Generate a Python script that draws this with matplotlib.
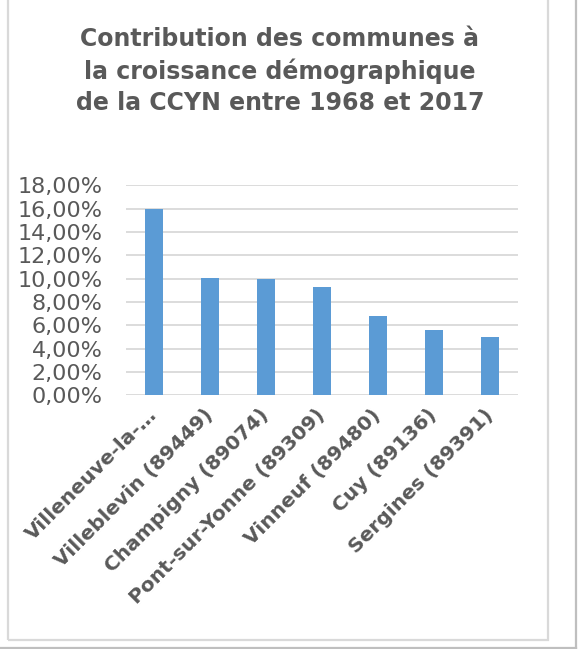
import matplotlib.pyplot as plt
from matplotlib.patches import Rectangle
from matplotlib.lines import Line2D
from matplotlib.ticker import FuncFormatter

# Data
communes = ["Villeneuve-la-…", "Villeblevin (89449)", "Champigny (89074)",
            "Pont-sur-Yonne (89309)", "Vinneuf (89480)", "Cuy (89136)",
            "Sergines (89391)"]
contribution = [15.97, 10.06, 9.97, 9.28, 6.77, 5.57, 5.02]
y_ticks = [0, 2, 4, 6, 8, 10, 12, 14, 16, 18]

W, H = 583, 649
fig = plt.figure(figsize=(W / 100, H / 100), dpi=100)
gray = "#595959"

# chart area frame + outer window lines
fig.patches.append(Rectangle((7.5 / W, 1 - 640 / H), (548 - 7.5) / W, 640 / H + 0.02,
                             transform=fig.transFigure, fill=False,
                             edgecolor="#D9D9D9", linewidth=1.6))
fig.lines.append(Line2D([576 / W, 576 / W], [1 - 648 / H, 1], transform=fig.transFigure,
                        color="#BFBFBF", linewidth=1.6))
fig.lines.append(Line2D([0, 576 / W], [1 - 648 / H, 1 - 648 / H], transform=fig.transFigure,
                        color="#BFBFBF", linewidth=1.6))

ax = fig.add_axes([126 / W, 1 - 395.3 / H, (518 - 126) / W, (395.3 - 185.3) / H])
ax.bar(range(len(communes)), contribution, width=0.316, color="#5B9BD5", zorder=3)

ax.set_xlim(-0.5, len(communes) - 0.5)
ax.set_ylim(0, 18)
ax.set_yticks(y_ticks)
ax.yaxis.set_major_formatter(FuncFormatter(lambda v, p: f"{v:.2f}".replace(".", ",") + "%"))
ax.grid(axis="y", color="#D9D9D9", linewidth=1.3, zorder=0)
for s in ax.spines.values():
    s.set_visible(False)
ax.tick_params(axis="y", length=0, pad=17, labelsize=16, labelcolor=gray)
ax.tick_params(axis="x", length=0, pad=12)

ax.set_xticks(range(len(communes)))
ax.set_xticklabels(communes, rotation=45, ha="right", va="center",
                   rotation_mode="anchor", fontsize=14.5, fontweight="bold", color=gray)

fig.text(280 / W, 1 - 71 / H,
         "Contribution des communes à\nla croissance démographique\nde la CCYN entre 1968 et 2017",
         ha="center", va="center", fontsize=17, fontweight="bold", color=gray,
         linespacing=1.35)

fig.savefig("out.png", dpi=100)
